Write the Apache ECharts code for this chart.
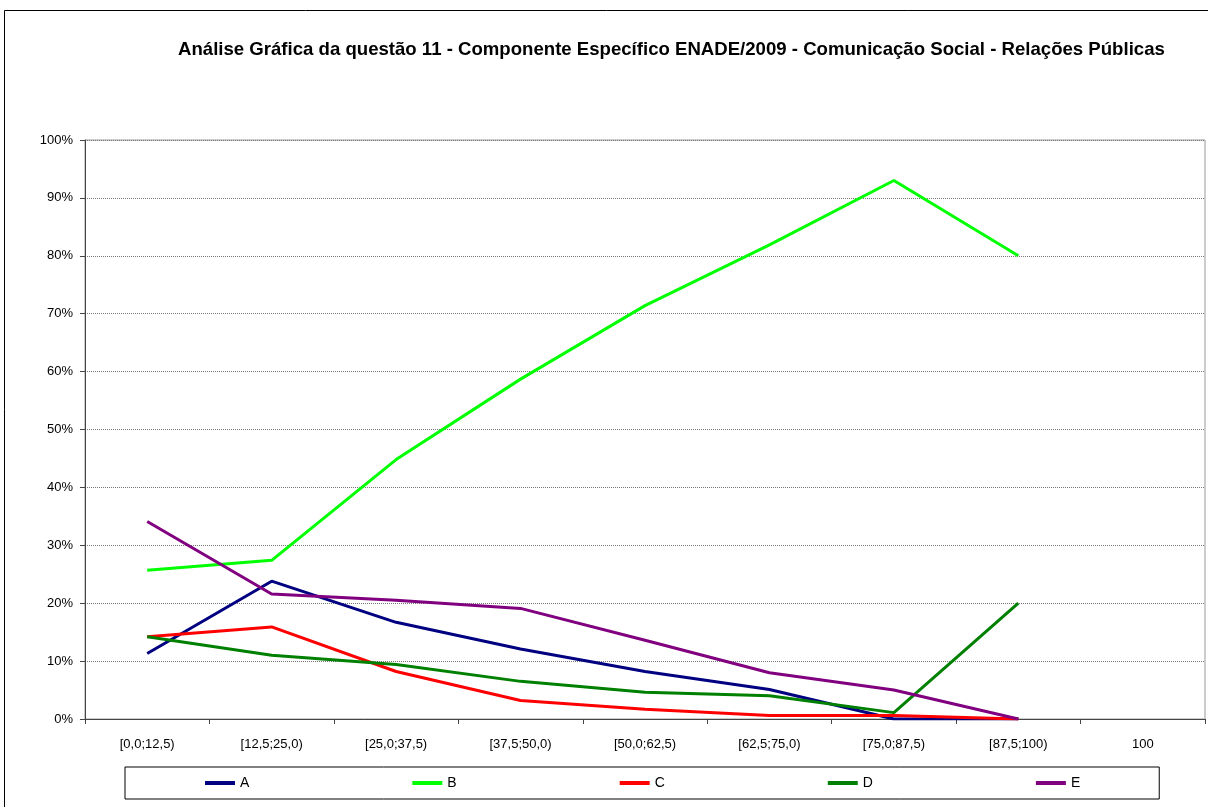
<!DOCTYPE html>
<html>
<head>
<meta charset="utf-8">
<script src="https://cdn.jsdelivr.net/npm/echarts@6/dist/echarts.min.js"></script>
<style>
  html, body { margin: 0; padding: 0; background: #fff; }
  #chart { width: 1208px; height: 807px; }
</style>
</head>
<body>
<div id="chart"></div>
<script>
// Faixas de nota (eixo X) e percentuais por alternativa
const categories = ['[0,0;12,5)', '[12,5;25,0)', '[25,0;37,5)', '[37,5;50,0)', '[50,0;62,5)',
  '[62,5;75,0)', '[75,0;87,5)', '[87,5;100)', '100'];

const serieA = [11.3, 23.8, 16.7, 12.1, 8.2, 5.1, 0, 0];
const serieB = [25.7, 27.4, 44.8, 58.7, 71.4, 81.9, 93.0, 80.0];
const serieC = [14.2, 15.9, 8.2, 3.2, 1.7, 0.6, 0.6, 0];
const serieD = [14.2, 11.0, 9.4, 6.5, 4.6, 4.0, 1.1, 20.0];
const serieE = [34.1, 21.6, 20.5, 19.1, 13.6, 8.0, 5.0, 0];

const yTicks = [0, 10, 20, 30, 40, 50, 60, 70, 80, 90, 100];

const colors = ['#000080', '#00ff00', '#ff0000', '#008000', '#800080'];

var myChart = echarts.init(document.getElementById('chart'));

function line(name, data, color) {
  return {
    name: name,
    type: 'line',
    data: data,
    symbol: 'none',
    smooth: false,
    lineStyle: { color: color, width: 3 },
    itemStyle: { color: color }
  };
}

myChart.setOption({
  animation: false,
  backgroundColor: '#fff',
  textStyle: { fontFamily: 'Liberation Sans, Arial, sans-serif' },
  title: {
    text: 'Análise Gráfica da questão 11 - Componente Específico ENADE/2009 - Comunicação Social - Relações Públicas',
    left: 178,
    top: 40,
    padding: 0,
    textStyle: { fontSize: 18.6, fontWeight: 'bold', color: '#000', fontFamily: 'Liberation Sans, Arial, sans-serif' }
  },
  graphic: [
    {
      type: 'rect',
      shape: { x: 4.5, y: 10.5, width: 1300, height: 900 },
      style: { fill: 'none', stroke: '#000', lineWidth: 1 },
      silent: true
    }
  ],
  grid: {
    left: 85,
    right: 3,
    top: 140,
    bottom: 88,
    show: true,
    borderColor: '#999',
    borderWidth: 1,
    backgroundColor: '#fff'
  },
  legend: {
    left: 125,
    top: 767,
    padding: [9, 79, 9, 80],
    itemGap: 163,
    itemWidth: 30,
    itemHeight: 4,
    icon: 'rect',
    borderColor: '#000',
    borderWidth: 1,
    textStyle: { fontSize: 14, color: '#000', padding: [0, 0, 0, 0] },
    data: ['A', 'B', 'C', 'D', 'E']
  },
  xAxis: {
    type: 'category',
    data: categories,
    boundaryGap: true,
    axisLine: { lineStyle: { color: '#444', width: 1 } },
    axisTick: { show: true, length: 5, lineStyle: { color: '#444' } },
    axisLabel: { fontSize: 13, color: '#000', margin: 19, interval: 0 }
  },
  yAxis: {
    type: 'value',
    min: 0,
    max: 100,
    interval: 10,
    axisLine: { show: true, lineStyle: { color: '#444', width: 1 } },
    axisTick: { show: true, length: 5, lineStyle: { color: '#444' } },
    axisLabel: {
      fontSize: 13,
      color: '#000',
      margin: 12,
      formatter: function (v) { return yTicks.indexOf(v) >= 0 ? v + '%' : ''; }
    },
    splitLine: { show: true, lineStyle: { color: '#777', type: [1, 1], width: 1 } }
  },
  series: [
    line('A', serieA, colors[0]),
    line('B', serieB, colors[1]),
    line('C', serieC, colors[2]),
    line('D', serieD, colors[3]),
    line('E', serieE, colors[4])
  ]
});
</script>
</body>
</html>
